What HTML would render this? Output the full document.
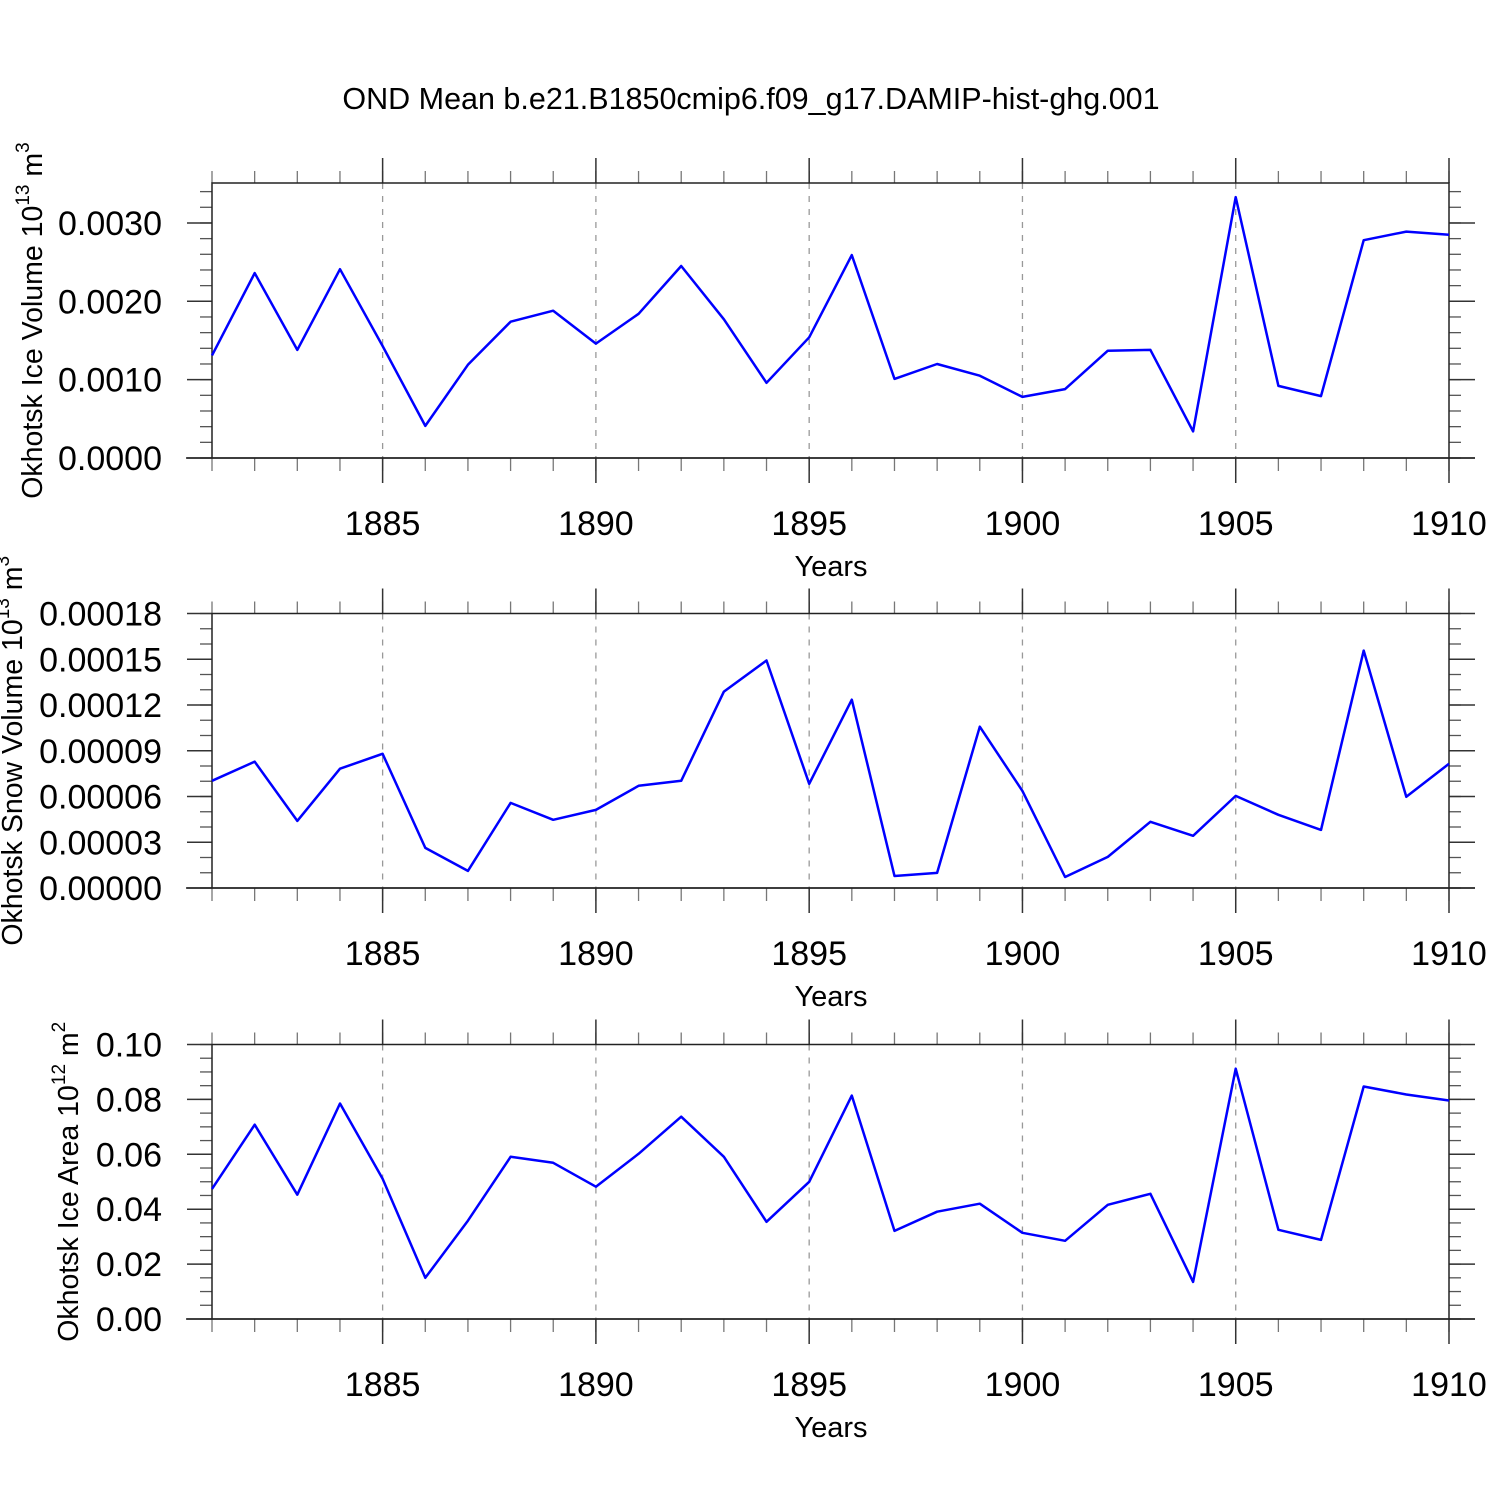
<!DOCTYPE html>
<html><head><meta charset="utf-8"><style>
html,body{margin:0;padding:0;background:#fff;}
svg{display:block;font-family:"Liberation Sans",sans-serif;}
</style></head><body>
<svg id="chart" width="1500" height="1500" viewBox="0 0 1500 1500" xmlns="http://www.w3.org/2000/svg">
<rect width="1500" height="1500" fill="#fff"/>
<text x="751" y="109" font-size="30.5" text-anchor="middle">OND Mean b.e21.B1850cmip6.f09_g17.DAMIP-hist-ghg.001</text>
</svg>
<script>
const years = [1881,1882,1883,1884,1885,1886,1887,1888,1889,1890,1891,1892,1893,1894,1895,1896,1897,1898,1899,1900,1901,1902,1903,1904,1905,1906,1907,1908,1909,1910];
const iceVolume = [0.00131,0.00236,0.00138,0.00241,0.00143,0.00041,0.00119,0.00174,0.00188,0.00146,0.00184,0.00245,0.00177,0.00096,0.00154,0.00259,0.00101,0.00120,0.00105,0.00078,0.00088,0.00137,0.00138,0.00034,0.00333,0.00092,0.00079,0.00278,0.00289,0.00285];
const snowVolume = [7.03e-5,8.28e-5,4.40e-5,7.82e-5,8.80e-5,2.63e-5,1.12e-5,5.58e-5,4.47e-5,5.12e-5,6.70e-5,7.03e-5,12.88e-5,14.92e-5,6.83e-5,12.35e-5,0.79e-5,0.99e-5,10.58e-5,6.37e-5,0.72e-5,2.04e-5,4.34e-5,3.42e-5,6.04e-5,4.80e-5,3.81e-5,15.57e-5,5.98e-5,8.15e-5];
const iceArea = [0.0474,0.0708,0.0453,0.0785,0.0511,0.0150,0.0358,0.0591,0.0569,0.0482,0.0602,0.0737,0.0591,0.0354,0.0500,0.0814,0.0321,0.0391,0.0420,0.0314,0.0285,0.0416,0.0456,0.0135,0.0912,0.0325,0.0288,0.0847,0.0818,0.0796];
const xTicks = [1885,1890,1895,1900,1905,1910];
const iceVolTicks = ["0.0000","0.0010","0.0020","0.0030"];
const snowTicks = ["0.00000","0.00003","0.00006","0.00009","0.00012","0.00015","0.00018"];
const areaTicks = ["0.00","0.02","0.04","0.06","0.08","0.10"];

const svg = document.getElementById('chart');
const NS = 'http://www.w3.org/2000/svg';
function mk(tag, attrs, parent){const e=document.createElementNS(NS,tag);for(const k in attrs)e.setAttribute(k,attrs[k]);(parent||svg).appendChild(e);return e;}

const X0=212, X1=1449, YMIN=1881, YMAX=1910;
function xs(v){return X0+(v-YMIN)/(YMAX-YMIN)*(X1-X0);}

const panels = [
 {name:'ice-volume', top:183, bot:458, ymax:0.00351, data:iceVolume, ticks:iceVolTicks, minor:0.0002, title:'Okhotsk Ice Volume 10', sup:'13', unit:' m', usup:'3', tx:42},
 {name:'snow-volume', top:613.5, bot:888, ymax:0.00018, data:snowVolume, ticks:snowTicks, minor:0.00001, title:'Okhotsk Snow Volume 10', sup:'13', unit:' m', usup:'3', tx:22},
 {name:'ice-area', top:1044.5, bot:1319, ymax:0.1, data:iceArea, ticks:areaTicks, minor:0.005, title:'Okhotsk Ice Area 10', sup:'12', unit:' m', usup:'2', tx:78}
];

panels.forEach(p=>{
 const g = mk('g',{});
 
 
 const ys = v => p.bot - v/p.ymax*(p.bot-p.top);
 xTicks.slice(0,5).forEach(t=>{
  const l=mk('line',{x1:xs(t),x2:xs(t),y1:p.top,y2:p.bot,stroke:'#999','stroke-width':1.3,'stroke-dasharray':'6,7'},g);
  
  
 });
 for(let v=0; v<=p.ymax+1e-12; v+=p.minor){
  const y=ys(v);
  mk('line',{x1:X0-12,x2:X0,y1:y,y2:y,stroke:'#555','stroke-width':1.3},g);
  mk('line',{x1:X1,x2:X1+12,y1:y,y2:y,stroke:'#555','stroke-width':1.3},g);
 }
 p.ticks.forEach(t=>{
  const y=ys(parseFloat(t));
  mk('line',{x1:X0-25,x2:X0,y1:y,y2:y,stroke:'#333','stroke-width':1.5},g);
  mk('line',{x1:X1,x2:X1+26,y1:y,y2:y,stroke:'#333','stroke-width':1.5},g);
  const tx=mk('text',{x:162,y:y+12,'font-size':34,'text-anchor':'end'},g);
  tx.textContent=t;
  
  
 });
 years.forEach(yr=>{
  const x=xs(yr);
  mk('line',{x1:x,x2:x,y1:p.top-12,y2:p.top,stroke:'#777','stroke-width':1.3},g);
  mk('line',{x1:x,x2:x,y1:p.bot,y2:p.bot+13,stroke:'#777','stroke-width':1.3},g);
 });
 xTicks.forEach(t=>{
  const x=xs(t);
  mk('line',{x1:x,x2:x,y1:p.top-25,y2:p.top,stroke:'#333','stroke-width':1.5},g);
  mk('line',{x1:x,x2:x,y1:p.bot,y2:p.bot+25,stroke:'#333','stroke-width':1.5},g);
  const tx=mk('text',{x:x,y:p.bot+77,'font-size':34,'text-anchor':'middle'},g);
  tx.textContent=t;
  
  
 });
 mk('rect',{x:X0,y:p.top,width:X1-X0,height:p.bot-p.top,fill:'none',stroke:'#222','stroke-width':1.5},g);
 mk('line',{x1:X0-26,x2:X1+26,y1:p.bot,y2:p.bot,stroke:'#222','stroke-width':1.5},g);
 const pts=years.map((yr,i)=>xs(yr).toFixed(1)+','+ys(p.data[i]).toFixed(1)).join(' ');
 const pl=mk('polyline',{points:pts,fill:'none',stroke:'#0000ff','stroke-width':2.5,'stroke-linejoin':'round'},g);
 
 
 const xt=mk('text',{x:831,y:p.bot+118,'font-size':29,'text-anchor':'middle'},g);
 xt.textContent='Years';
 
 
 const cy=(p.top+p.bot)/2;
 const yt=mk('text',{x:p.tx,y:cy,'font-size':28.5,'text-anchor':'middle',transform:'rotate(-90 '+p.tx+' '+cy+')'},g);
 
 
 const a=document.createElementNS(NS,'tspan');a.textContent=p.title;yt.appendChild(a);
 const b=document.createElementNS(NS,'tspan');b.setAttribute('dy','-13');b.setAttribute('font-size','19');b.textContent=p.sup;yt.appendChild(b);
 const c=document.createElementNS(NS,'tspan');c.setAttribute('dy','13');c.textContent=p.unit;yt.appendChild(c);
 const d=document.createElementNS(NS,'tspan');d.setAttribute('dy','-13');d.setAttribute('font-size','19');d.textContent=p.usup;yt.appendChild(d);
});
</script>
</body></html>
